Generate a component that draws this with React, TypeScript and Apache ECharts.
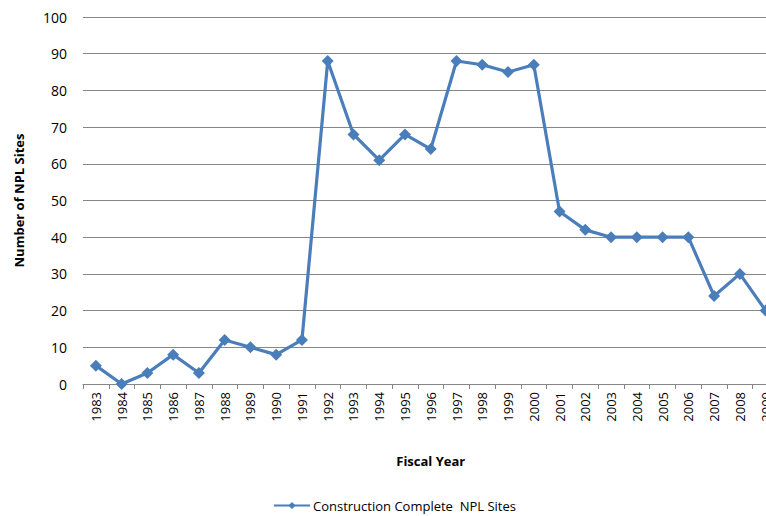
import React, { useEffect, useRef } from "react";
import * as echarts from "echarts";

const years = ["1983","1984","1985","1986","1987","1988","1989","1990","1991","1992","1993","1994","1995","1996","1997","1998","1999","2000","2001","2002","2003","2004","2005","2006","2007","2008","2009"];
const sites = [5,0,3,8,3,12,10,8,12,88,68,61,68,64,88,87,85,87,47,42,40,40,40,40,24,30,20];
const seriesName = "Construction Complete  NPL Sites";

const FONT = "'Open Sans', 'Noto Sans', sans-serif";

export default function App() {
  const ref = useRef<HTMLDivElement>(null);
  useEffect(() => {
    if (!ref.current) return;
    const chart = echarts.init(ref.current, undefined, { renderer: "svg" });
    chart.setOption({
      animation: false,
      backgroundColor: "#ffffff",
      textStyle: { fontFamily: FONT },
      grid: { left: 83, top: 17, right: 21.5, bottom: 132, containLabel: false },
      legend: {
        left: 268,
        top: 494,
        itemWidth: 36,
        itemHeight: 9,
        itemGap: 4,
        textStyle: { fontFamily: FONT, fontSize: 13, color: "#000", padding: [0, 0, 0, -2] },
        data: [seriesName],
      },
      xAxis: {
        type: "category",
        data: years,
        boundaryGap: true,
        name: "Fiscal Year",
        nameLocation: "middle",
        nameGap: 70,
        nameTextStyle: { fontFamily: FONT, fontSize: 13, fontWeight: "bold", color: "#000" },
        axisLine: { lineStyle: { color: "#868686", width: 1 } },
        axisTick: { show: true, length: 5, lineStyle: { color: "#868686" } },
        axisLabel: { rotate: 90, interval: 0, margin: 8, fontSize: 13, color: "#000", fontFamily: FONT },
        splitLine: { show: false },
      },
      yAxis: {
        type: "value",
        min: 0,
        max: 100,
        interval: 10,
        name: "Number of NPL Sites",
        nameLocation: "middle",
        nameGap: 58,
        nameRotate: 90,
        nameTextStyle: { fontFamily: FONT, fontSize: 13, fontWeight: "bold", color: "#000" },
        axisLine: { show: false },
        axisTick: { show: false },
        axisLabel: { margin: 16, fontSize: 14, color: "#000", fontFamily: FONT },
        splitLine: { lineStyle: { color: "#868686", width: 1 } },
      },
      series: [
        {
          name: seriesName,
          type: "line",
          data: sites,
          symbol: "diamond",
          symbolSize: 12,
          itemStyle: { color: "#4A7EBB" },
          lineStyle: { color: "#4A7EBB", width: 3.2 },
          clip: false,
        },
      ],
    });
    return () => chart.dispose();
  }, []);
  return (
    <div style={{ position: "fixed", left: 0, top: 0, width: 766, height: 516, overflow: "hidden", background: "#fff" }}>
      <div ref={ref} style={{ width: 800, height: 516 }} />
    </div>
  );
}
